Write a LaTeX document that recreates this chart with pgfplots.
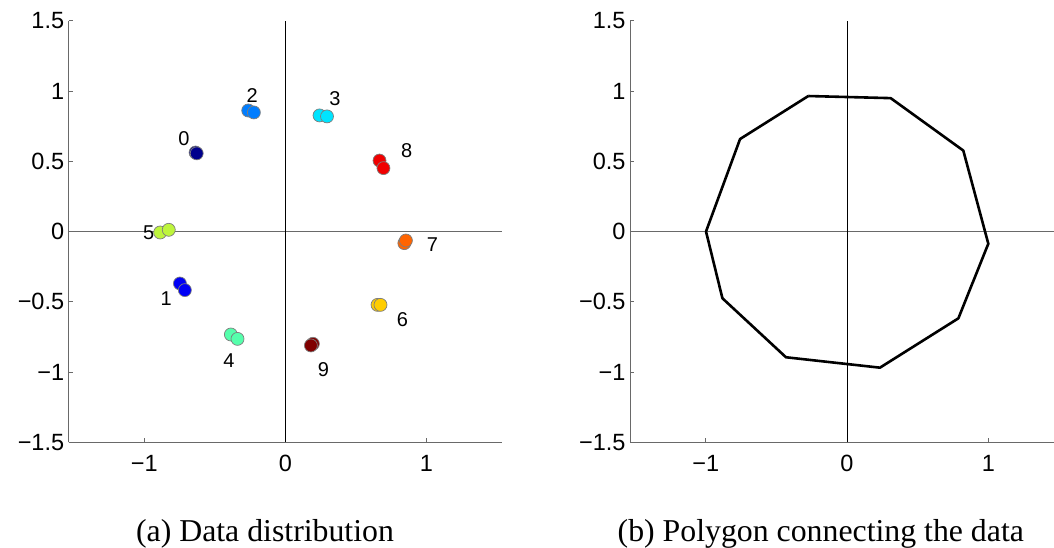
\documentclass[border=0pt]{standalone}
\usepackage{pgfplots}
\pgfplotsset{compat=1.18}
\usepackage{fontspec}
\setmainfont{Liberation Serif}
\newfontfamily\arial{Liberation Sans}
\definecolor{axgray}{RGB}{105,105,105}
\definecolor{edgegray}{RGB}{125,125,125}
\definecolor{c0}{RGB}{0,0,140}
\definecolor{c1}{RGB}{0,0,245}
\definecolor{c2}{RGB}{0,125,255}
\definecolor{c3}{RGB}{0,228,255}
\definecolor{c4}{RGB}{85,255,172}
\definecolor{c5}{RGB}{190,245,60}
\definecolor{c6}{RGB}{255,205,0}
\definecolor{c7}{RGB}{255,100,0}
\definecolor{c8}{RGB}{240,0,0}
\definecolor{c9}{RGB}{128,0,0}
\pgfplotsset{
  panel/.style={
    scale only axis, height=421.6pt,
    axis x line=bottom, axis y line=left,
    axis line style={-, draw=axgray, line width=0.8pt},
    tick align=inside, major tick length=4pt,
    tick style={axgray, line width=0.8pt},
    ymin=-1.5, ymax=1.5,
    ytick={-1.5,-1,-0.5,0,0.5,1,1.5},
    yticklabels={−1.5,−1,−0.5,0,0.5,1,1.5},
    xtick={-1,0,1}, xticklabels={−1,0,1},
    tick label style={font=\arial\fontsize{23.5}{23.5}\selectfont},
    xticklabel style={yshift=-9.5pt},
    yticklabel style={xshift=-1pt},
    clip=false,
  },
  pt/.style={only marks, mark=*, mark size=6.5pt, mark options={draw=edgegray, line width=0.7pt, fill=#1}},
}
\begin{document}
\begin{tikzpicture}[x=1pt,y=1pt]
\useasboundingbox (0,0) rectangle (1054,548);
\begin{axis}[panel, at={(68.7pt,105.7pt)}, anchor=south west, width=433.6pt,
  xmin=-1.535, xmax=1.537]
\addplot[axgray, line width=0.9pt, forget plot] coordinates {(-1.535,0) (1.537,0)};
\addplot[black, line width=0.8pt, forget plot] coordinates {(0,-1.5) (0,1.5)};
\addplot[pt=c0] coordinates {(-0.636,0.562) (-0.628,0.556)};
\addplot[pt=c1] coordinates {(-0.747,-0.370) (-0.712,-0.417)};
\addplot[pt=c2] coordinates {(-0.263,0.861) (-0.223,0.847)};
\addplot[pt=c3] coordinates {(0.242,0.826) (0.295,0.819)};
\addplot[pt=c4] coordinates {(-0.386,-0.733) (-0.339,-0.764)};
\addplot[pt=c5] coordinates {(-0.887,-0.007) (-0.826,0.012)};
\addplot[pt=c6] coordinates {(0.653,-0.522) (0.674,-0.522)};
\addplot[pt=c7] coordinates {(0.843,-0.083) (0.854,-0.064)};
\addplot[pt=c8] coordinates {(0.667,0.505) (0.695,0.451)};
\addplot[pt=c9] coordinates {(0.195,-0.799) (0.181,-0.811)};
\begin{scope}[every node/.style={font=\arial\fontsize{20}{20}\selectfont, inner sep=0pt}]
\node at (axis cs:-0.719,0.658) {0};
\node at (axis cs:-0.844,-0.479) {1};
\node at (axis cs:-0.235,0.966) {2};
\node at (axis cs:0.352,0.949) {3};
\node at (axis cs:-0.399,-0.920) {4};
\node at (axis cs:-0.968,-0.007) {5};
\node at (axis cs:0.829,-0.628) {6};
\node at (axis cs:1.042,-0.095) {7};
\node at (axis cs:0.859,0.574) {8};
\node at (axis cs:0.270,-0.984) {9};
\end{scope}
\end{axis}
\begin{axis}[panel, at={(630pt,105.7pt)}, anchor=south west, width=424pt,
  xmin=-1.536, xmax=1.465]
\addplot[axgray, line width=0.9pt, forget plot] coordinates {(-1.536,0) (1.465,0)};
\addplot[black, line width=0.8pt, forget plot] coordinates {(0,-1.5) (0,1.5)};
\addplot[black, line width=2.6pt, line join=round] coordinates {
(-0.274,0.964) (0.309,0.949) (0.823,0.576) (1.000,-0.087) (0.788,-0.618)
(0.233,-0.969) (-0.432,-0.895) (-0.882,-0.475) (-0.998,0.000) (-0.757,0.658)
(-0.274,0.964)};
\end{axis}
\node[anchor=base, font=\fontsize{31.8}{31.8}\selectfont, inner sep=0pt] at (265,6.3) {(a) Data distribution};
\node[anchor=base, font=\fontsize{31.8}{31.8}\selectfont, inner sep=0pt] at (820.8,6.3) {(b) Polygon connecting the data};
\end{tikzpicture}
\end{document}
